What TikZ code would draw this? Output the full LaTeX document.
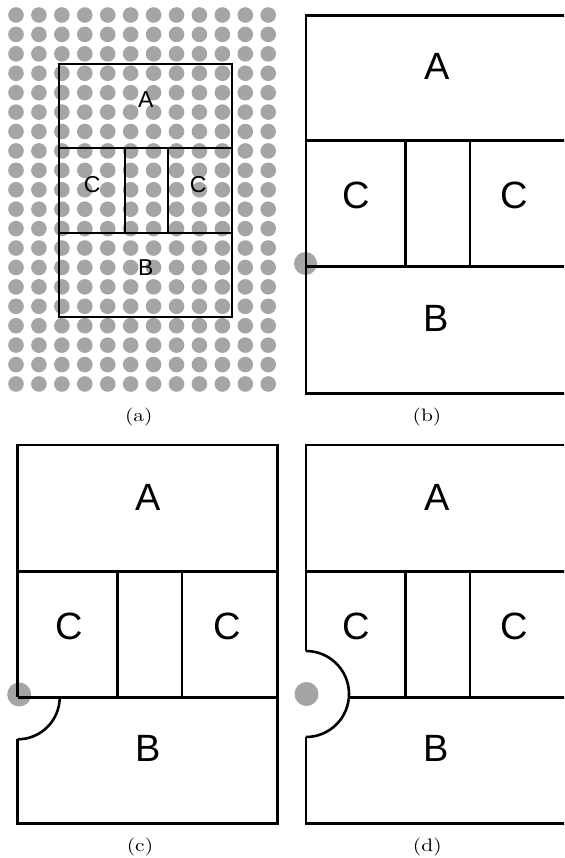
\documentclass[tikz,border=0pt]{standalone}
\usepackage{graphicx}
\usepackage{fontspec}
\newfontfamily\labfont{Liberation Sans}
\newcommand{\capbox}[1]{\scalebox{2.15}[1.8]{#1}}
\definecolor{dotgray}{HTML}{A5A5A5}
\tikzset{
  thinwall/.style={line width=1.7pt, line join=miter},
  wall/.style={line width=2.6pt, line join=miter},
  griddot/.style={fill=dotgray, draw=none},
  bigdot/.style={fill=dotgray, draw=none},
  smalllab/.style={font=\labfont\fontsize{23}{23}\selectfont, anchor=base, inner sep=0pt},
  biglab/.style={font=\labfont\fontsize{38}{38}\selectfont, anchor=base, inner sep=0pt},
  subcap/.style={anchor=base, inner sep=0pt}
}
\begin{document}
\begin{tikzpicture}[x=1pt,y=-1pt]
\useasboundingbox (0,0) rectangle (564,858);
\clip (0,0) rectangle (564,858);
% ---------- panel (a) ----------
\foreach \i in {0,...,11}{
  \foreach \j in {0,...,19}{
    \fill[griddot] ({16+22.93*\i},{15+19.42*\j}) circle[radius=7.8pt];
  }
}
\draw[thinwall] (58.7,63.7) rectangle (232.3,317.3);
\draw[thinwall] (58.7,148) -- (232.3,148);
\draw[thinwall] (58.7,233) -- (232.3,233);
\draw[thinwall] (125,148) -- (125,233);
\draw[thinwall] (168.3,148) -- (168.3,233);
\node[smalllab] (aA) at (145.7,107.3) {A};
\node[smalllab] (aC1) at (92.3,192.8) {C};
\node[smalllab] (aC2) at (198.3,192.8) {C};
\node[smalllab] (aB) at (145.7,276) {B};
\node[subcap] (capa) at (138.8,421.8) {\capbox{(a)}};
% ---------- panel (b) ----------
\fill[bigdot] (305.5,263.5) circle[radius=11.5pt];
\draw[wall] (570,15.3) -- (306,15.3) -- (306,393.3) -- (570,393.3);
\draw[wall] (306,140.7) -- (570,140.7);
\draw[wall] (306,266.7) -- (570,266.7);
\draw[wall] (405.3,140.7) -- (405.3,266.7);
\draw[wall] (470,140.7) -- (470,266.7);
\node[biglab] (bA) at (436.7,80) {A};
\node[biglab] (bC1) at (356.7,208.5) {C};
\node[biglab] (bC2) at (514.5,208.5) {C};
\node[biglab] (bB) at (436,331.7) {B};
\node[subcap] (capb) at (427,421.8) {\capbox{(b)}};
% ---------- panel (c) ----------
\fill[bigdot] (19.2,694.5) circle[radius=12pt];
\draw[wall] (17.7,697.3) -- (17.7,445) -- (277.3,445) -- (277.3,823.3) -- (17.7,823.3) -- (17.7,739.3);
\draw[wall] (17.7,571.7) -- (277.3,571.7);
\draw[wall] (17.7,697.3) -- (277.3,697.3);
\draw[wall] (117.3,571.7) -- (117.3,697.3);
\draw[wall] (182,571.7) -- (182,697.3);
\draw[wall] (59.7,697.3) .. controls (59.7,720.5) and (40.9,739.3) .. (17.7,739.3);
\node[biglab] (cA) at (148.3,510) {A};
\node[biglab] (cC1) at (69,639.5) {C};
\node[biglab] (cC2) at (227,639.5) {C};
\node[biglab] (cB) at (147.7,761.7) {B};
\node[subcap] (capc) at (140,851.2) {\capbox{(c)}};
% ---------- panel (d) ----------
\fill[bigdot] (306.5,694) circle[radius=12pt];
\draw[wall] (306,651) -- (306,445) -- (570,445);
\draw[wall] (306,737) -- (306,823.3) -- (570,823.3);
\draw[wall] (306,651) .. controls (329.75,651) and (349,670.25) .. (349,694)
                      .. controls (349,717.75) and (329.75,737) .. (306,737);
\draw[wall] (306,571.7) -- (570,571.7);
\draw[wall] (348.8,697.3) -- (570,697.3);
\draw[wall] (405.3,571.7) -- (405.3,697.3);
\draw[wall] (470,571.7) -- (470,697.3);
\node[biglab] (dA) at (436.7,510) {A};
\node[biglab] (dC1) at (356.7,639.5) {C};
\node[biglab] (dC2) at (514.5,639.5) {C};
\node[biglab] (dB) at (436,761.7) {B};
\node[subcap] (capd) at (427.3,851.2) {\capbox{(d)}};
\end{tikzpicture}
\end{document}
